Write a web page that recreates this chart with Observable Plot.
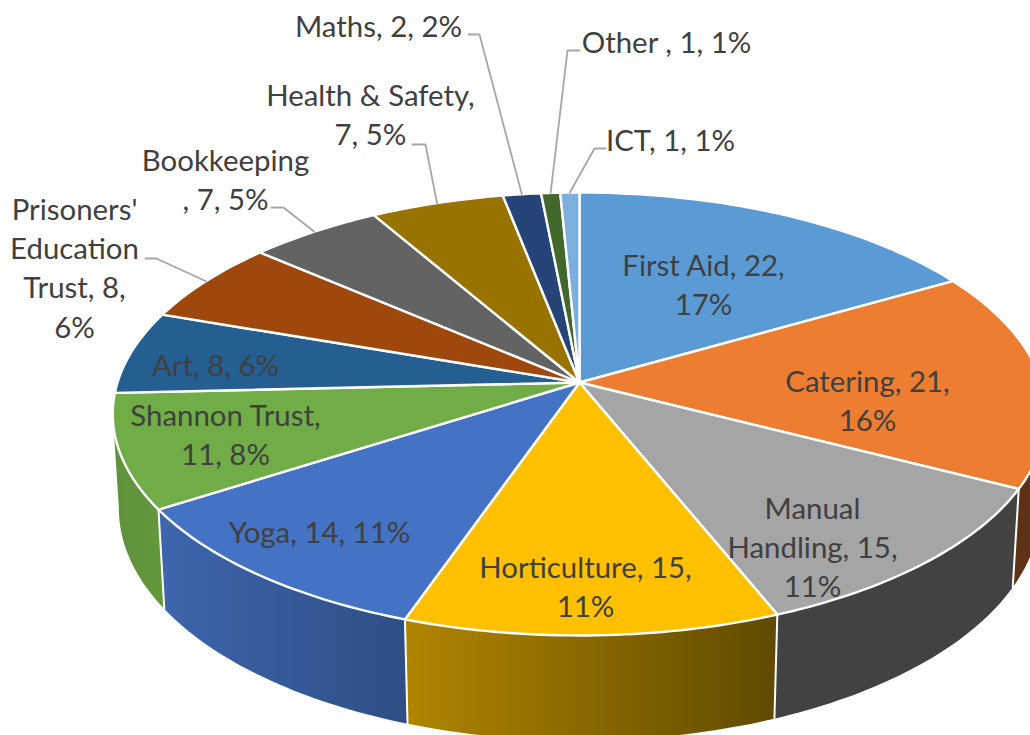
<!DOCTYPE html>
<html>
<head>
<meta charset="utf-8">
<script src="https://cdn.jsdelivr.net/npm/d3@7"></script>
<script src="https://cdn.jsdelivr.net/npm/@observablehq/plot@0.6"></script>
<style>html,body{margin:0;padding:0;background:#fff}svg{display:block}</style>
</head>
<body>
<div id="chart"></div>
<script>
// Data
const categories = ["First Aid","Catering","Manual Handling","Horticulture","Yoga","Shannon Trust","Art","Prisoners' Education Trust","Bookkeeping","Health & Safety","Maths","Other","ICT"];
const counts = [22,21,15,15,14,11,8,8,7,7,2,1,1];
const labelTexts = ["First Aid, 22,\n17%","Catering, 21,\n16%","Manual\nHandling, 15,\n11%","Horticulture, 15,\n11%","Yoga, 14, 11%","Shannon Trust,\n11, 8%","Art, 8, 6%","Prisoners'\nEducation\nTrust, 8,\n6%","Bookkeeping\n, 7, 5%","Health & Safety,\n7, 5%","Maths, 2, 2%","Other , 1, 1%","ICT, 1, 1%"];
const faceColors = ["#5b9bd5","#ed7d31","#a5a5a5","#ffc000","#4472c4","#70ad47","#255e91","#9e480e","#636363","#997300","#264478","#43682b","#7cafdd"];
// Wall paints for the slices whose side is visible
const wallPaints = {1:"#5e3215",2:"#424242",3:"url(#wallGold)",4:"url(#wallBlue)",5:"url(#wallGreen)"};
// Label placement, in chart pixels relative to the pie's apex
const labelDX = [124,288,233,6,-260,-354,-364,-505,-354,-209,-201,87,91];
const labelDY = [-97,19,165,205,150,53,-17,-114,-202,-267,-356,-340,-242];
// Leader elbows for outside labels: [slice index, label end dx,dy, elbow dx,dy]
const leaders = [
  [7,-434,-124,-423,-124],
  [8,-308,-175,-296,-175],
  [9,-167,-238,-154,-238],
  [10,-111,-348,-100,-348],
  [11,0,-332,-12,-332],
  [12,26,-234,15,-234]
];

// Perspective model of the disc
const R = 462, B = 217, K = 0.1422, DEPTH = 94.7, SHRINK = 0.013;
const project = (deg, h) => {
  const t = deg * Math.PI / 180, u = Math.sin(t), v = -Math.cos(t);
  const w = 1 - K * v + SHRINK * h;
  return {px: R * u / w, py: (B * v + DEPTH * h) / w};
};
const total = d3.sum(counts);
const cum = d3.cumsum(counts);
const startDeg = i => (i ? cum[i - 1] : 0) / total * 360;
const endDeg = i => cum[i] / total * 360;
const arc = (a, b, h) => {
  const n = Math.max(2, Math.ceil(Math.abs(b - a))), out = [];
  for (let j = 0; j <= n; j++) out.push(project(a + (b - a) * j / n, h));
  return out;
};

const faces = counts.flatMap((c, i) =>
  [{px: 0, py: 0}, ...arc(startDeg(i), endDeg(i), 0), {px: 0, py: 0}]
    .map(p => ({...p, slice: categories[i], paint: faceColors[i]})));

const walls = Object.keys(wallPaints).flatMap(k => {
  const i = +k, a = Math.max(startDeg(i), 98), b = Math.min(endDeg(i), 262);
  return [...arc(a, b, 0), ...arc(b, a, 1)].map(p => ({...p, slice: categories[i], paint: wallPaints[k]}));
});

const dividers = [2, 3, 4, 5].flatMap(i =>
  [project(startDeg(i), 0), project(startDeg(i), 1)].map(p => ({...p, slice: categories[i]})));

const leaderLines = leaders.flatMap(([i, lx, ly, ex, ey]) =>
  [{px: lx, py: ly}, {px: ex, py: ey}, project((startDeg(i) + endDeg(i)) / 2, 0)]
    .map(p => ({...p, slice: categories[i]})));

const labels = labelTexts.map((text, i) => ({text, px: labelDX[i], py: labelDY[i]}));

const gradient = (defs, id, stops) => {
  const g = defs.append("linearGradient").attr("id", id).attr("x1", 0).attr("x2", 1).attr("y1", 0).attr("y2", 0);
  stops.forEach((c, j) => g.append("stop").attr("offset", j / (stops.length - 1)).attr("stop-color", c));
};
const defsMark = () => {
  const d = d3.create("svg:defs");
  gradient(d, "wallGold", ["#b08500", "#604a00"]);
  gradient(d, "wallBlue", ["#3d66ad", "#2e4e85"]);
  gradient(d, "wallGreen", ["#5f923a", "#63983b"]);
  return d.node();
};

const plot = Plot.plot({
  width: 1030, height: 735,
  marginTop: 0, marginRight: 0, marginBottom: 0, marginLeft: 0,
  x: {domain: [-579, 451], range: [0, 1030], axis: null},
  y: {domain: [-382, 353], range: [0, 735], axis: null},
  color: {type: "identity"},
  style: {background: "#fff", overflow: "hidden"},
  marks: [
    defsMark,
    Plot.line(walls, {x: "px", y: "py", z: "slice", fill: "paint", stroke: "none"}),
    Plot.line(dividers, {x: "px", y: "py", z: "slice", stroke: "#fff", strokeWidth: 2}),
    Plot.line(faces, {x: "px", y: "py", z: "slice", fill: "paint", stroke: "#fff", strokeWidth: 2.4, strokeLinejoin: "round"}),
    Plot.line(leaderLines, {x: "px", y: "py", z: "slice", stroke: "#a6a6a6", strokeWidth: 1.8}),
    Plot.text(labels, {x: "px", y: "py", dy: -2, text: "text", fill: "#404040", fontFamily: "Lato", fontSize: 29.4, lineHeight: 1.327, textAnchor: "middle"})
  ]
});
document.getElementById("chart").append(plot);
</script>
</body>
</html>
